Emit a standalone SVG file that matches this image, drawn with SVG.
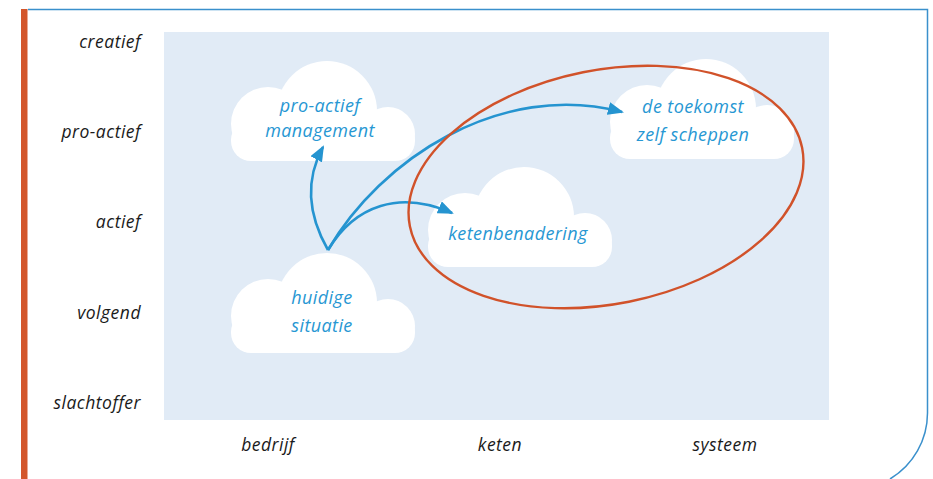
<svg xmlns="http://www.w3.org/2000/svg" xmlns:xlink="http://www.w3.org/1999/xlink" width="933" height="479" viewBox="0 0 933 479">
  <style>
    .axis { font-family: "Open Sans", "Noto Sans", "DejaVu Sans", sans-serif; font-style: italic; font-size: 17.5px; letter-spacing: 0.5px; fill: #1a1a1a; }
    .axis-y { text-anchor: end; }
    .axis-x { text-anchor: middle; }
    .node-text { font-family: "Open Sans", "Noto Sans", "DejaVu Sans", sans-serif; font-style: italic; font-size: 18px; letter-spacing: 0.4px; fill: #2797d3; text-anchor: middle; }
    .cloud { fill: #ffffff; }
    .conn { fill: none; stroke: #2594d0; stroke-width: 2.6; }
    .ring { fill: none; stroke: #d1522a; stroke-width: 2.4; }
  </style>
  <defs>
    <g id="cloudShape" class="cloud">
      <circle cx="96" cy="51" r="50"/>
      <circle cx="37" cy="64" r="37"/>
      <circle cx="157" cy="74" r="27"/>
      <rect x="0" y="60" width="184" height="41" rx="20"/>
    </g>
    <marker id="arrow" viewBox="0 0 16 13" refX="14" refY="6.5" markerWidth="16" markerHeight="13" markerUnits="userSpaceOnUse" orient="auto">
      <path d="M0,0 L16,6.5 L0,13 Z" fill="#2594d0"/>
    </marker>
  </defs>

  <!-- frame -->
  <g id="frame">
    <path d="M28,9.5 H927.5 V413 A77,77 0 0 1 890,479" fill="none" stroke="#3a90cc" stroke-width="1.5"/>
    <rect x="21" y="9" width="6.5" height="470" fill="#d3562b"/>
    <rect x="164" y="32" width="665" height="388" fill="#e1ebf6"/>
  </g>

  <!-- axis labels -->
  <g id="axis-y">
    <text class="axis axis-y" x="141" y="48">creatief</text>
    <text class="axis axis-y" x="141" y="138">pro-actief</text>
    <text class="axis axis-y" x="141" y="228">actief</text>
    <text class="axis axis-y" x="141" y="319">volgend</text>
    <text class="axis axis-y" x="141" y="409">slachtoffer</text>
  </g>
  <g id="axis-x">
    <text class="axis axis-x" x="268" y="451">bedrijf</text>
    <text class="axis axis-x" x="500" y="451">keten</text>
    <text class="axis axis-x" x="725" y="451">systeem</text>
  </g>

  <!-- nodes -->
  <g id="node-proactief-management">
    <use xlink:href="#cloudShape" href="#cloudShape" transform="translate(231,60)"/>
    <text class="node-text" x="320" y="112">pro-actief</text>
    <text class="node-text" x="320" y="137">management</text>
  </g>
  <g id="node-huidige-situatie">
    <use xlink:href="#cloudShape" href="#cloudShape" transform="translate(231,252)"/>
    <text class="node-text" x="322" y="304">huidige</text>
    <text class="node-text" x="322" y="332">situatie</text>
  </g>
  <g id="node-ketenbenadering">
    <use xlink:href="#cloudShape" href="#cloudShape" transform="translate(428,166)"/>
    <text class="node-text" x="518" y="240">ketenbenadering</text>
  </g>
  <g id="node-toekomst">
    <use xlink:href="#cloudShape" href="#cloudShape" transform="translate(610,58)"/>
    <text class="node-text" x="693" y="113">de toekomst</text>
    <text class="node-text" x="693" y="141">zelf scheppen</text>
  </g>

  <!-- connectors -->
  <g id="connectors">
    <path class="conn" d="M328,250 C308,215 305,180 323,147" marker-end="url(#arrow)"/>
    <path class="conn" d="M328,250 C380,160 500,80 622,112" marker-end="url(#arrow)"/>
    <path class="conn" d="M328,250 C355,205 400,190 452,213" marker-end="url(#arrow)"/>
  </g>

  <!-- highlight ellipse -->
  <g id="highlight">
    <ellipse class="ring" cx="606" cy="187" rx="200" ry="117" transform="rotate(-11.3 606 187)"/>
  </g>
</svg>
